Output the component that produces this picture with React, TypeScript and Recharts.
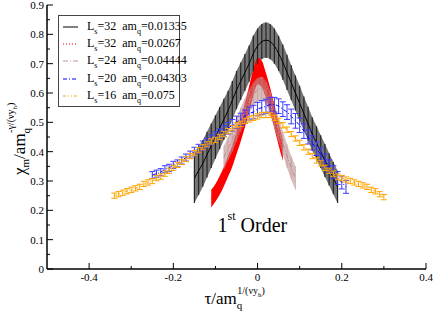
import React from 'react';
import { ComposedChart, Line, Area, XAxis, YAxis, ErrorBar, Legend, ReferenceDot } from 'recharts';

const FONT = "'Liberation Serif', 'Times New Roman', Times, serif";

// ---- axis ticks ----
const X_TICKS = [-0.4, -0.3, -0.2, -0.1, 0, 0.1, 0.2, 0.3, 0.4];
const X_MAJOR = [-0.4, -0.2, 0, 0.2, 0.4];
const Y_TICKS = [0, 0.05, 0.1, 0.15, 0.2, 0.25, 0.3, 0.35, 0.4, 0.45, 0.5, 0.55, 0.6, 0.65, 0.7, 0.75, 0.8, 0.85, 0.9];
const Y_MAJOR = [0, 0.1, 0.2, 0.3, 0.4, 0.5, 0.6, 0.7, 0.8, 0.9];

// ---- Ls=32 amq=0.01335 (black) ----
const TAU_32A = [-0.15, -0.14, -0.13, -0.12, -0.11, -0.1, -0.09, -0.08, -0.07, -0.06, -0.05, -0.04, -0.03, -0.02, -0.01, 0, 0.01, 0.02, 0.03, 0.04, 0.05, 0.06, 0.07, 0.08, 0.09, 0.1, 0.11, 0.12, 0.13, 0.14, 0.15, 0.16, 0.17, 0.18, 0.19];
const CHI_32A = [0.31, 0.335, 0.36, 0.39, 0.42, 0.45, 0.48, 0.51, 0.54, 0.575, 0.61, 0.64, 0.67, 0.7, 0.735, 0.76, 0.775, 0.78, 0.775, 0.76, 0.735, 0.705, 0.67, 0.635, 0.6, 0.565, 0.53, 0.495, 0.46, 0.43, 0.4, 0.37, 0.34, 0.31, 0.28];
const ERR_32A = [0.085, 0.083, 0.08, 0.078, 0.076, 0.074, 0.072, 0.07, 0.068, 0.066, 0.065, 0.064, 0.063, 0.062, 0.061, 0.06, 0.06, 0.06, 0.06, 0.06, 0.06, 0.06, 0.06, 0.06, 0.06, 0.06, 0.058, 0.058, 0.057, 0.057, 0.056, 0.056, 0.055, 0.055, 0.055];

// ---- Ls=32 amq=0.0267 (red) ----
const TAU_32B = [-0.11, -0.1, -0.09, -0.08, -0.07, -0.06, -0.05, -0.04, -0.03, -0.02, -0.01, 0, 0.01, 0.02, 0.03, 0.04, 0.05, 0.06];
const CHI_32B = [0.24, 0.26, 0.285, 0.315, 0.35, 0.385, 0.43, 0.475, 0.525, 0.58, 0.635, 0.675, 0.665, 0.625, 0.575, 0.52, 0.46, 0.405];
const ERR_32B = [0.03, 0.03, 0.032, 0.033, 0.035, 0.036, 0.038, 0.04, 0.042, 0.043, 0.045, 0.045, 0.045, 0.043, 0.042, 0.04, 0.038, 0.036];

// ---- Ls=24 amq=0.04444 (rosybrown) ----
const TAU_24 = [-0.08, -0.07, -0.06, -0.05, -0.04, -0.03, -0.02, -0.01, 0, 0.01, 0.02, 0.03, 0.04, 0.05, 0.06, 0.07, 0.08, 0.09];
const CHI_24 = [0.38, 0.41, 0.44, 0.475, 0.51, 0.54, 0.57, 0.595, 0.61, 0.615, 0.6, 0.565, 0.52, 0.475, 0.43, 0.385, 0.345, 0.31];
const ERR_24 = 0.04;

// ---- Ls=20 amq=0.04303 (blue) ----
const TAU_20 = [-0.25, -0.24, -0.23, -0.22, -0.21, -0.2, -0.19, -0.18, -0.17, -0.16, -0.15, -0.14, -0.13, -0.12, -0.11, -0.1, -0.09, -0.08, -0.07, -0.06, -0.05, -0.04, -0.03, -0.02, -0.01, 0, 0.01, 0.02, 0.03, 0.04, 0.05, 0.06, 0.07, 0.08, 0.09, 0.1, 0.11, 0.12, 0.13, 0.14, 0.15, 0.16, 0.17, 0.18, 0.19, 0.2, 0.21];
const CHI_20 = [0.32, 0.325, 0.33, 0.34, 0.345, 0.355, 0.36, 0.37, 0.38, 0.39, 0.4, 0.41, 0.42, 0.43, 0.44, 0.45, 0.46, 0.47, 0.48, 0.49, 0.5, 0.51, 0.52, 0.53, 0.535, 0.545, 0.55, 0.555, 0.56, 0.56, 0.555, 0.545, 0.535, 0.52, 0.505, 0.49, 0.47, 0.45, 0.43, 0.41, 0.39, 0.37, 0.35, 0.33, 0.31, 0.295, 0.28];
const ERR_20 = [0.012, 0.012, 0.012, 0.012, 0.012, 0.012, 0.012, 0.012, 0.012, 0.012, 0.015, 0.015, 0.016, 0.016, 0.017, 0.018, 0.018, 0.019, 0.02, 0.02, 0.021, 0.021, 0.022, 0.022, 0.023, 0.023, 0.024, 0.024, 0.025, 0.025, 0.025, 0.025, 0.025, 0.025, 0.025, 0.025, 0.025, 0.024, 0.024, 0.023, 0.023, 0.022, 0.022, 0.022, 0.022, 0.022, 0.022];

// ---- Ls=16 amq=0.075 (orange) ----
const TAU_16 = [-0.34, -0.33, -0.32, -0.31, -0.3, -0.29, -0.28, -0.27, -0.26, -0.25, -0.24, -0.23, -0.22, -0.21, -0.2, -0.19, -0.18, -0.17, -0.16, -0.15, -0.14, -0.13, -0.12, -0.11, -0.1, -0.09, -0.08, -0.07, -0.06, -0.05, -0.04, -0.03, -0.02, -0.01, 0, 0.01, 0.02, 0.03, 0.04, 0.05, 0.06, 0.07, 0.08, 0.09, 0.1, 0.11, 0.12, 0.13, 0.14, 0.15, 0.16, 0.17, 0.18, 0.19, 0.2, 0.21, 0.22, 0.23, 0.24, 0.25, 0.26, 0.27, 0.28, 0.29, 0.3];
const CHI_16 = [0.25, 0.255, 0.26, 0.265, 0.27, 0.275, 0.28, 0.29, 0.295, 0.3, 0.31, 0.315, 0.325, 0.335, 0.345, 0.355, 0.365, 0.375, 0.385, 0.395, 0.405, 0.415, 0.425, 0.435, 0.44, 0.45, 0.46, 0.47, 0.48, 0.49, 0.495, 0.505, 0.51, 0.515, 0.52, 0.525, 0.525, 0.525, 0.515, 0.505, 0.49, 0.475, 0.46, 0.445, 0.43, 0.415, 0.4, 0.385, 0.37, 0.36, 0.345, 0.335, 0.325, 0.315, 0.31, 0.305, 0.3, 0.295, 0.29, 0.285, 0.28, 0.27, 0.265, 0.255, 0.245];
const ERR_16 = 0.009;

// ---- legend ----
const LEGEND_LS = ['32', '32', '24', '20', '16'];
const LEGEND_AMQ = ['0.01335', '0.0267', '0.04444', '0.04303', '0.075'];
const LEGEND_COLORS = ['#000000', '#ff0000', '#bc8f8f', '#0000ff', '#ffa500'];
const LEGEND_DASH = ['', '1 2', '5 2 1 2', '4 2 1 2', '3 2 1 2 1 2'];

const ANNOT_TAU = -0.095;
const ANNOT_CHI = 0.126;

type Row = { x: number; y: number; e: number; band: [number, number] };
const toRows = (tau: number[], chi: number[], err: number[] | number): Row[] =>
  tau.map((x, i) => {
    const e = typeof err === 'number' ? err : err[i];
    return { x, y: chi[i], e, band: [chi[i] - e, chi[i] + e] };
  });

const rows32a = toRows(TAU_32A, CHI_32A, ERR_32A);
const rows32b = toRows(TAU_32B, CHI_32B, ERR_32B);
const rows24 = toRows(TAU_24, CHI_24, ERR_24);
const rows20 = toRows(TAU_20, CHI_20, ERR_20);
const rows16 = toRows(TAU_16, CHI_16, ERR_16);

const isIn = (arr: number[], v: number) => arr.some((m) => Math.abs(m - v) < 1e-9);
const fmt = (v: number) => (Math.abs(v) < 1e-9 ? '0' : v.toFixed(1));

const BottomTick = (p: any) => {
  const { x, y, payload } = p;
  const major = isIn(X_MAJOR, payload.value);
  return (
    <g>
      <line x1={x} x2={x} y1={y} y2={y - (major ? 6 : 3)} stroke="#000" strokeWidth={1} />
      {major && (
        <text x={x} y={y + 12} textAnchor="middle" fontSize={11} fontFamily={FONT} fill="#000">
          {fmt(payload.value)}
        </text>
      )}
    </g>
  );
};
const TopTick = (p: any) => {
  const { x, y, payload } = p;
  const major = isIn(X_MAJOR, payload.value);
  return <line x1={x} x2={x} y1={y} y2={y + (major ? 6 : 3)} stroke="#000" strokeWidth={1} />;
};
const LeftTick = (p: any) => {
  const { x, y, payload } = p;
  const major = isIn(Y_MAJOR, payload.value);
  return (
    <g>
      <line x1={x} x2={x + (major ? 6 : 3)} y1={y} y2={y} stroke="#000" strokeWidth={1} />
      {major && (
        <text x={x - 3} y={y + 4} textAnchor="end" fontSize={11} fontFamily={FONT} fill="#000">
          {fmt(payload.value)}
        </text>
      )}
    </g>
  );
};
const RightTick = (p: any) => {
  const { x, y, payload } = p;
  const major = isIn(Y_MAJOR, payload.value);
  return <line x1={x} x2={x - (major ? 6 : 3)} y1={y} y2={y} stroke="#000" strokeWidth={1} />;
};

const XLabel = (p: any) => {
  const vb = p.viewBox || { x: 47, y: 269, width: 379, height: 42 };
  const sx = vb.x + vb.width / 2 - 32;
  const by = vb.y + 35;
  return (
    <text x={sx} y={by} fontFamily={FONT} fontSize={17} fill="#000">
      <tspan>τ/am</tspan>
      <tspan dy={5} fontSize={11}>q</tspan>
      <tspan dx={-5} dy={-15} fontSize={10}>1/(νy</tspan>
      <tspan dy={3} fontSize={7}>h</tspan>
      <tspan dy={-3} fontSize={10}>)</tspan>
    </text>
  );
};

const YLabel = (p: any) => {
  const vb = p.viewBox || { x: 0, y: 5, width: 47, height: 264 };
  const bx = vb.x + 25;
  const cy = vb.y + vb.height / 2 + 2;
  return (
    <text transform={`translate(${bx}, ${cy}) rotate(-90)`} x={-36} y={0} fontFamily={FONT} fontSize={17} fill="#000">
      <tspan>χ</tspan>
      <tspan dy={4} fontSize={11}>m</tspan>
      <tspan dy={-4}>/am</tspan>
      <tspan dy={5} fontSize={11}>q</tspan>
      <tspan dx={-5} dy={-16} fontSize={10}>-γ/(νy</tspan>
      <tspan dy={3} fontSize={7}>h</tspan>
      <tspan dy={-3} fontSize={10}>)</tspan>
    </text>
  );
};

const OrderLabel = (p: any) => {
  const vb = p.viewBox || { x: 0, y: 0 };
  const x = vb.x + (vb.width || 0) / 2;
  const y = vb.y + (vb.height || 0) / 2;
  return (
    <text x={x} y={y} fontFamily={FONT} fontSize={20} fill="#000">
      <tspan>1</tspan>
      <tspan dy={-12} fontSize={12}>st</tspan>
      <tspan dy={12}> Order</tspan>
    </text>
  );
};

const renderLegend = () => (
  <div
    style={{
      border: '1px solid #444',
      background: '#fff',
      width: 120,
      height: 88,
      fontFamily: FONT,
      fontSize: 12,
      color: '#000',
      paddingTop: 2,
      boxSizing: 'content-box',
    }}
  >
    {LEGEND_LS.map((ls, i) => (
      <div key={i} style={{ display: 'flex', alignItems: 'center', height: 17.4, lineHeight: '12px' }}>
        <svg width={28} height={10} style={{ flex: 'none' }}>
          <line x1={4} x2={19} y1={5} y2={5} stroke={LEGEND_COLORS[i]} strokeWidth={1} strokeDasharray={LEGEND_DASH[i] || undefined} />
        </svg>
        <span style={{ whiteSpace: 'nowrap' }}>
          L<span style={{ fontSize: 8, position: 'relative', top: 4 }}>s</span>={ls}&nbsp;&nbsp;am
          <span style={{ fontSize: 8, position: 'relative', top: 4 }}>q</span>={LEGEND_AMQ[i]}
        </span>
      </div>
    ))}
  </div>
);

export default function App() {
  return (
    <div style={{ position: 'absolute', left: 0, top: 0, width: 433, height: 311, background: '#fff' }}>
      <ComposedChart width={433} height={311} margin={{ top: 5, right: 7, bottom: 0, left: 0 }}>
        <XAxis
          xAxisId="b"
          dataKey="x"
          type="number"
          domain={[-0.5, 0.4]}
          allowDataOverflow
          ticks={X_TICKS}
          interval={0}
          height={42}
          tickSize={0}
          tickMargin={0}
          tickLine={false}
          tick={BottomTick}
          axisLine={{ stroke: '#000', strokeWidth: 1.5 }}
          label={{ content: XLabel }}
        />
        <XAxis
          xAxisId="t"
          orientation="top"
          dataKey="x"
          type="number"
          domain={[-0.5, 0.4]}
          allowDataOverflow
          ticks={X_TICKS}
          interval={0}
          height={0}
          tickSize={0}
          tickMargin={0}
          tickLine={false}
          tick={TopTick}
          axisLine={{ stroke: '#000', strokeWidth: 1.5 }}
        />
        <YAxis
          yAxisId="l"
          type="number"
          domain={[0, 0.9]}
          allowDataOverflow
          ticks={Y_TICKS}
          interval={0}
          width={47}
          tickSize={0}
          tickMargin={0}
          tickLine={false}
          tick={LeftTick}
          axisLine={{ stroke: '#000', strokeWidth: 1.5 }}
          label={{ content: YLabel }}
        />
        <YAxis
          yAxisId="r"
          orientation="right"
          type="number"
          domain={[0, 0.9]}
          allowDataOverflow
          ticks={Y_TICKS}
          interval={0}
          width={0}
          tickSize={0}
          tickMargin={0}
          tickLine={false}
          tick={RightTick}
          axisLine={{ stroke: '#000', strokeWidth: 1.5 }}
        />

        {/* black band */}
        <Area xAxisId="b" yAxisId="l" data={rows32a} dataKey="band" type="monotone" stroke="none" fill="#767676" fillOpacity={1} isAnimationActive={false} />
        <Line xAxisId="b" yAxisId="l" data={rows32a} dataKey="y" stroke="none" dot={false} isAnimationActive={false}>
          <ErrorBar dataKey="e" direction="y" width={0} stroke="#262626" strokeWidth={1.2} />
        </Line>
        <Line xAxisId="b" yAxisId="l" data={rows32a} dataKey="y" type="monotone" stroke="#000" strokeWidth={1} dot={false} isAnimationActive={false} />

        {/* red band */}
        <Area xAxisId="b" yAxisId="l" data={rows32b} dataKey="band" type="monotone" stroke="none" fill="#ff0000" fillOpacity={1} isAnimationActive={false} />
        <Line xAxisId="b" yAxisId="l" data={rows32b} dataKey="y" type="monotone" stroke="#ff0000" strokeDasharray="1 2" dot={false} isAnimationActive={false} />

        {/* rosybrown band */}
        <Area xAxisId="b" yAxisId="l" data={rows24} dataKey="band" type="monotone" stroke="none" fill="#bc8f8f" fillOpacity={0.6} isAnimationActive={false} />
        <Line xAxisId="b" yAxisId="l" data={rows24} dataKey="y" type="monotone" stroke="#bc8f8f" strokeDasharray="5 2 1 2" dot={false} isAnimationActive={false}>
          <ErrorBar dataKey="e" direction="y" width={0} stroke="#bc8f8f" strokeOpacity={0.5} strokeWidth={1} />
        </Line>

        {/* blue */}
        <Line xAxisId="b" yAxisId="l" data={rows20} dataKey="y" type="monotone" stroke="#0000ff" strokeDasharray="4 2 1 2" strokeWidth={1} dot={false} isAnimationActive={false}>
          <ErrorBar dataKey="e" direction="y" width={3} stroke="#3a3aff" strokeWidth={1} />
        </Line>

        {/* orange */}
        <Line xAxisId="b" yAxisId="l" data={rows16} dataKey="y" type="monotone" stroke="#ffa500" strokeDasharray="3 2 1 2 1 2" strokeWidth={1} dot={false} isAnimationActive={false}>
          <ErrorBar dataKey="e" direction="y" width={3} stroke="#ffa500" strokeWidth={1} />
        </Line>

        <ReferenceDot xAxisId="b" yAxisId="l" x={ANNOT_TAU} y={ANNOT_CHI} r={1} fill="none" stroke="none" label={{ content: OrderLabel }} />

        <Legend
          layout="vertical"
          align="center"
          verticalAlign="middle"
          content={renderLegend}
          wrapperStyle={{ left: 58, top: 15, width: 122, height: 91, right: 'auto', bottom: 'auto' }}
        />
      </ComposedChart>
    </div>
  );
}
